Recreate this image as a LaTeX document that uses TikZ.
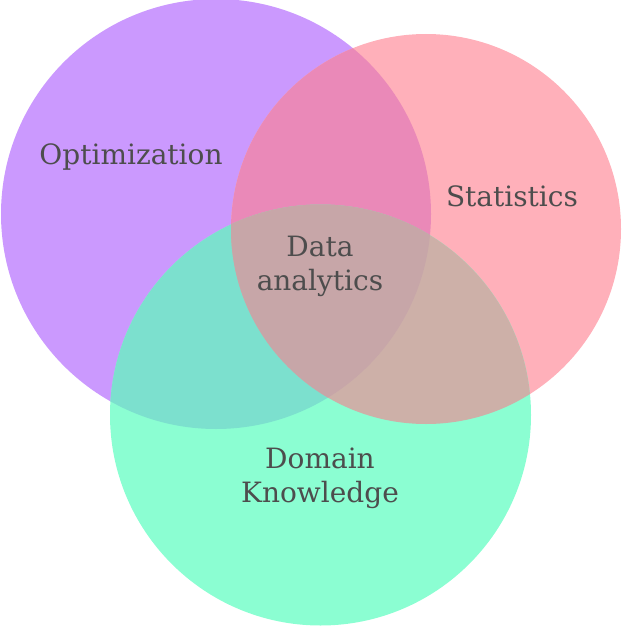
\documentclass[tikz,border=0pt]{standalone}
\usepackage{fontspec}
\setmainfont{DejaVu Serif}
\definecolor{cA}{RGB}{203,153,254}
\definecolor{cB}{RGB}{255,176,186}
\definecolor{cC}{RGB}{139,254,210}
\definecolor{cAB}{RGB}{234,137,184}
\definecolor{cAC}{RGB}{124,224,206}
\definecolor{cBC}{RGB}{205,176,168}
\definecolor{cABC}{RGB}{199,166,168}
\definecolor{txt}{RGB}{77,77,77}
\begin{document}
\begin{tikzpicture}[x=1pt,y=-1pt,
  lbl/.style={text=txt,font=\fontsize{28}{34}\selectfont,align=center,inner sep=0pt}]
\useasboundingbox (0,0) rectangle (621,626);
\def\circA{(216,214) circle[radius=215]}
\def\circB{(426,229) circle[radius=195]}
\def\circC{(320.5,415) circle[radius=210.5]}
\fill[cA] \circA;
\fill[cB] \circB;
\fill[cC] \circC;
\begin{scope}\clip \circA; \fill[cAB] \circB; \end{scope}
\begin{scope}\clip \circA; \fill[cAC] \circC; \end{scope}
\begin{scope}\clip \circB; \fill[cBC] \circC; \end{scope}
\begin{scope}\clip \circA; \clip \circB; \fill[cABC] \circC; \end{scope}
\node[lbl] (opt) at (131,157) {Optimization};
\node[lbl] (stat) at (512,196) {Statistics};
\node[lbl] (data) at (320,266) {Data\\analytics};
\node[lbl] (dom) at (320,478.5) {Domain\\Knowledge};
\end{tikzpicture}
\end{document}
